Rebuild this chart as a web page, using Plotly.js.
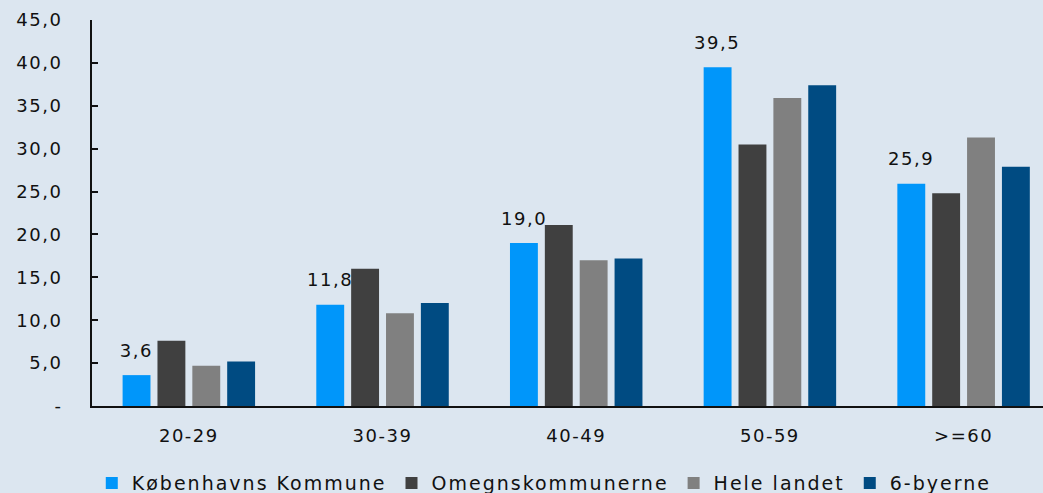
<!DOCTYPE html>
<html>
<head>
<meta charset="utf-8">
<script src="https://cdn.plot.ly/plotly-3.0.1.min.js"></script>
<style>
html,body{margin:0;padding:0;background:#DCE6F0;}
#chart{width:1043px;height:493px;}
#chart .xtick text, #chart .ytick text, #chart .annotation-text{letter-spacing:1.5px;}
.legendtext{letter-spacing:2px;}
</style>
</head>
<body>
<div id="chart"></div>
<script>
const categories = ["20-29", "30-39", "40-49", "50-59", ">=60"];
const seriesNames = ["Københavns Kommune", "Omegnskommunerne", "Hele landet", "6-byerne"];
const kobenhavn = [3.6, 11.8, 19.0, 39.5, 25.9];
const omegn = [7.6, 16.0, 21.1, 30.5, 24.8];
const heleLandet = [4.7, 10.8, 17.0, 35.9, 31.3];
const seksByer = [5.2, 12.0, 17.2, 37.4, 27.9];
const yTickVals = [0, 5, 10, 15, 20, 25, 30, 35, 40, 45];
const yTickText = ["-", "5,0", "10,0", "15,0", "20,0", "25,0", "30,0", "35,0", "40,0", "45,0"];

const colors = ["#0096FA", "#404040", "#808080", "#004B82"];
const allSeries = [kobenhavn, omegn, heleLandet, seksByer];
const FONT = "'DejaVu Sans', 'Noto Sans', sans-serif";

const traces = allSeries.map((vals, i) => ({
  type: "bar",
  name: seriesNames[i],
  x: categories,
  y: vals,
  marker: {color: colors[i], line: {width: 0}},
  hoverinfo: "skip"
}));

const fmt = v => v.toFixed(1).replace(".", ",");
const annotations = categories.map((c, i) => ({
  x: i, xref: "x", y: kobenhavn[i], yref: "y",
  text: fmt(kobenhavn[i]),
  showarrow: false,
  xshift: -52.5,
  yshift: 25,
  font: {family: FONT, size: 18, color: "#111111"}
}));

const layout = {
  width: 1043, height: 493,
  paper_bgcolor: "#DCE6F0",
  plot_bgcolor: "#DCE6F0",
  margin: {l: 92, r: 0, t: 20, b: 87},
  barmode: "group",
  bargap: 0.28,
  bargroupgap: 0.2,
  font: {family: FONT, size: 18, color: "#111111"},
  xaxis: {
    type: "category",
    range: [-0.5, 4.41],
    showline: true, linecolor: "#111111", linewidth: 2,
    ticks: "", showgrid: false, zeroline: false,
    ticklabelstandoff: 12,
    tickfont: {size: 18},
    fixedrange: true
  },
  yaxis: {
    range: [0, 45],
    tickvals: yTickVals, ticktext: yTickText,
    showline: true, linecolor: "#111111", linewidth: 2,
    ticks: "inside", ticklen: 6, tickwidth: 2, tickcolor: "#111111",
    showgrid: false, zeroline: false,
    ticklabelstandoff: 24,
    tickfont: {size: 18},
    fixedrange: true
  },
  showlegend: true,
  legend: {
    orientation: "h",
    xref: "container", yref: "container",
    x: 0.088, xanchor: "left",
    y: 0.02, yanchor: "middle",
    font: {size: 19},
    itemwidth: 30,
    traceorder: "normal",
    bgcolor: "rgba(0,0,0,0)"
  },
  annotations: annotations
};

Plotly.newPlot("chart", traces, layout, {displayModeBar: false, staticPlot: true});
</script>
</body>
</html>
